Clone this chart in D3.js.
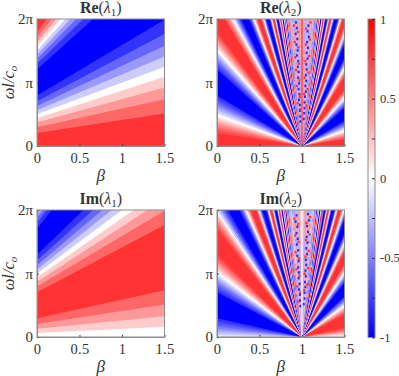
<!DOCTYPE html>
<html>
<head>
<meta charset="utf-8">
<script src="https://cdn.jsdelivr.net/npm/d3@7"></script>
<style>
  html, body { margin: 0; padding: 0; background: #fff; }
  svg { display: block; }
  text { font-family: "Liberation Serif", serif; fill: #333; }
  .domain { stroke: #8c8c8c; }
  .tick line { stroke: #333; }
</style>
</head>
<body>
<div id="chart"></div>
<script>
// Band edges. An edge is a ray through the fan's apex, named by
// where it lands on the beta = 0 side (omega in units of pi). The level is the colour
// value of the band above that edge.
const re1Edges = [0, .205, .295, .369, .436, .5, .564, .631, .705, .795, 1.205, 1.295, 1.369, 1.436, 1.5, 1.564, 1.631, 1.705, 1.795];
const re1Levels = [.8, .6, .4, .2, 0, -.2, -.4, -.6, -.8, -1, -.8, -.6, -.4, -.2, 0, .2, .4, .6, .8];

const im1Edges = [0, .064, .131, .205, .295, .705, .795, .869, .936, 1, 1.064, 1.131, 1.205, 1.295, 1.705, 1.795, 1.869, 1.936];
const im1Levels = [0, .2, .4, .6, .8, .6, .4, .2, 0, -.2, -.4, -.6, -.8, -1, -.8, -.6, -.4, -.2];

const re2Edges = [0, .205, .253, .295, .333, .369, .403, .436, .468, .5, .532, .564, .597, .631, .667, .705, .747, .795,
  1.205, 1.253, 1.295, 1.333, 1.369, 1.403, 1.436, 1.468, 1.5, 1.532, 1.564, 1.597, 1.631, 1.667, 1.705, 1.747, 1.795,
  2.205, 2.295, 2.369, 2.436, 2.5, 2.564, 2.631, 2.705, 2.795, 3.205, 3.295, 3.369, 3.436, 3.5, 3.564, 3.631, 3.705, 3.795,
  4.205, 4.369, 4.5, 4.631, 4.795, 5.205, 5.369, 5.5, 5.631, 5.795,
  6.205, 6.369, 6.5, 6.631, 6.795, 7.205, 7.369, 7.5, 7.631, 7.795,
  8.3, 8.7, 9.3, 9.7, 10.3, 10.7, 11.3, 11.7, 12.3, 12.7, 13.3, 13.7, 14.3, 14.7, 15.3, 15.7,
  16.4, 18, 21, 25, 30, 38, 50, 70, 110];
const re2Levels = [.8, .7, .6, .5, .4, .3, .2, .1, 0, -.1, -.2, -.3, -.4, -.5, -.6, -.7, -.8, -1,
  -.8, -.7, -.6, -.5, -.4, -.3, -.2, -.1, 0, .1, .2, .3, .4, .5, .6, .7, .8,
  .6, .4, .2, 0, -.2, -.4, -.6, -.8, -1, -.8, -.6, -.4, -.2, 0, .2, .4, .6, .8,
  .4, 0, -.4, -.8, -1, -.8, -.4, 0, .4, .8,
  .4, 0, -.4, -.8, -1, -.8, -.4, 0, .4, .8,
  0, -1, 0, .8, 0, -1, 0, .8, 0, -.8, 0, .7, 0, -.5, 0, .5,
  -.3, .3, -.35, .3, -.3, .35, -.35, .3, .4];

const im2LeftEdges = [0, .032, .064, .097, .131, .167, .205, .247, .295, .705, .753, .795, .833, .869, .903, .936, .968,
  1, 1.032, 1.064, 1.097, 1.131, 1.167, 1.205, 1.247, 1.295, 1.705, 1.753, 1.795, 1.833, 1.869, 1.903, 1.936, 1.968,
  2, 2.064, 2.131, 2.205, 2.295, 2.705, 2.795, 2.869, 2.936, 3, 3.064, 3.131, 3.205, 3.295, 3.705, 3.795, 3.869, 3.936,
  4, 4.131, 4.295, 4.705, 4.869, 5, 5.131, 5.295, 5.705, 5.869,
  6, 6.131, 6.295, 6.705, 6.869, 7, 7.131, 7.295, 7.705, 7.869,
  8.2, 8.8, 9.2, 9.8, 10.2, 10.8, 11.2, 11.8, 12.2, 12.8, 13.2, 13.8, 14.2, 14.8, 15.2, 15.8,
  16.4, 18, 21, 25, 30, 38, 50, 70, 110];
const im2LeftLevels = [-.1, -.2, -.3, -.4, -.5, -.6, -.7, -.8, -1, -.8, -.7, -.6, -.5, -.4, -.3, -.2, -.1,
  0, .1, .2, .3, .4, .5, .6, .7, .8, .7, .6, .5, .4, .3, .2, .1, 0,
  -.2, -.4, -.6, -.8, -1, -.8, -.6, -.4, -.2, 0, .2, .4, .6, .8, .6, .4, .2, 0,
  -.4, -.8, -1, -.8, -.4, 0, .4, .8, .4, 0,
  -.4, -.8, -1, -.8, -.4, 0, .4, .8, .4, 0,
  -1, 0, .8, 0, -1, 0, .8, 0, -.8, 0, .7, 0, -.5, 0, .5, 0,
  -.3, .3, -.35, .3, -.3, .35, -.35, .3, .1];

const im2RightEdges = [0, .032, .064, .097, .131, .167, .205, .247, .295, .705, .753, .795, .833, .869, .903, .936, .968,
  1, 1.032, 1.064, 1.097, 1.131, 1.167, 1.205, 1.247, 1.295, 1.705, 1.753, 1.795, 1.833, 1.869, 1.903, 1.936, 1.968,
  2, 2.064, 2.131, 2.205, 2.295, 2.705, 2.795, 2.869, 2.936, 3, 3.064, 3.131, 3.205, 3.295, 3.705, 3.795, 3.869, 3.936,
  4, 4.131, 4.295, 4.705, 4.869, 5, 5.131, 5.295, 5.705, 5.869,
  6, 6.131, 6.295, 6.705, 6.869, 7, 7.131, 7.295, 7.705, 7.869,
  8.2, 8.8, 9.2, 9.8, 10.2, 10.8, 11.2, 11.8, 12.2, 12.8, 13.2, 13.8, 14.2, 14.8, 15.2, 15.8,
  16.4, 18, 21, 25, 30, 38, 50, 70, 110];
const im2RightLevels = [0, .1, .2, .3, .4, .5, .6, .7, .8, .7, .6, .5, .4, .3, .2, .1, 0,
  -.1, -.2, -.3, -.4, -.5, -.6, -.7, -.8, -1, -.8, -.7, -.6, -.5, -.4, -.3, -.2, -.1,
  0, .2, .4, .6, .8, .6, .4, .2, 0, -.2, -.4, -.6, -.8, -1, -.8, -.6, -.4, -.2,
  0, .4, .8, .4, 0, -.4, -.8, -1, -.8, -.4,
  0, .4, .8, .4, 0, -.4, -.8, -1, -.8, -.4,
  .8, 0, -1, 0, .8, 0, -1, 0, .7, 0, -.8, 0, .5, 0, -.5, 0,
  .3, -.3, .35, -.3, .3, -.35, .35, -.3, .1];

// Speckles in the aliased middle of the lambda_2 panels: [beta, omega / pi]
const re2BlueDots = [[.93,1.95],[.94,1.86],[.925,1.77],[.945,1.69],[.935,1.6],[.95,1.51],[.94,1.43],[.955,1.34],[.95,1.25],[.96,1.17],[.955,1.08],[.965,.99],[.96,.9],[.97,.82],[.965,.73],[.975,.65],[.975,.56],[.98,.47],[.98,.39],
  [1.075,1.9],[1.065,1.81],[1.08,1.72],[1.06,1.64],[1.07,1.55],[1.055,1.47],[1.065,1.38],[1.05,1.29],[1.055,1.21],[1.045,1.12],[1.05,1.03],[1.04,.95],[1.045,.86],[1.035,.78],[1.03,.69],[1.03,.6],[1.025,.52],[1.02,.43]];
const re2RedDots = [[.905,1.9],[.95,1.8],[.915,1.64],[.955,1.56],[.92,1.4],[.965,1.3],[.93,1.2],[.97,1.04],[.94,.95],[.975,.78],[.95,.68],[.98,.58],
  [1.1,1.95],[1.05,1.85],[1.095,1.68],[1.045,1.6],[1.085,1.42],[1.04,1.34],[1.075,1.16],[1.03,1.08],[1.065,.9],[1.025,.82],[1.05,.64]];
const im2BlueDots = [[.935,1.92],[.925,1.82],[.945,1.74],[.935,1.64],[.95,1.55],[.94,1.46],[.955,1.37],[.945,1.28],[.96,1.2],[.955,1.1],[.965,1.02],[.96,.93],[.97,.84],[.965,.75],[.975,.67],[.975,.58],[.98,.49],
  [1.07,1.94],[1.08,1.84],[1.06,1.75],[1.07,1.66],[1.055,1.58],[1.065,1.49],[1.05,1.4],[1.06,1.31],[1.045,1.22],[1.05,1.14],[1.04,1.05],[1.045,.96],[1.035,.87],[1.04,.79],[1.03,.7],[1.03,.61],[1.02,.52]];
const im2RedDots = [[.91,1.87],[.955,1.78],[.92,1.6],[.96,1.5],[.925,1.34],[.965,1.24],[.935,1.07],[.97,.97],[.945,.8],[.98,.7],[.96,.56],
  [1.095,1.89],[1.05,1.8],[1.09,1.62],[1.045,1.53],[1.08,1.36],[1.04,1.27],[1.07,1.09],[1.03,1],[1.06,.83],[1.025,.74]];
const paleBlueDots = [[.895,1.97],[.915,1.84],[.9,1.7],[.93,1.52],[.91,1.46],[.935,1.3],[.92,1.14],[.945,1.02],[.93,.88],[.955,.76],[.945,.62],
  [1.12,1.84],[1.095,1.76],[1.115,1.58],[1.09,1.5],[1.1,1.3],[1.08,1.24],[1.085,1.02],[1.065,1],[1.07,.76],[1.05,.72]];
const palePinkDots = [[.88,1.78],[.91,1.73],[.89,1.56],[.925,1.46],[.905,1.26],[.94,1.14],[.915,1],[.95,.86],[.935,.7],
  [1.11,1.75],[1.09,1.92],[1.125,1.66],[1.095,1.36],[1.105,1.12],[1.075,1.3],[1.08,.92],[1.055,.94],[1.06,.66]];

const xTicks = [0, .5, 1, 1.5];
const xTickLabels = ["0", "0.5", "1", "1.5"];
const yTicks = [0, 1, 2];
const yTickLabels = ["0", "π", "2π"];
const barTicks = [-1, -.75, -.5, -.25, 0, .25, .5, .75, 1];
const barLabels = ["-1", "", "-0.5", "", "0", "", "0.5", "", "1"];

const svg = d3.select("#chart").append("svg").attr("width", 399).attr("height", 376);
const color = d3.scaleLinear().domain([-1, 0, 1]).range(["#0000ff", "#ffffff", "#ff0000"]);

const panelW = 127.5, panelH = 127;
const x = d3.scaleLinear().domain([0, 1.5]).range([0, panelW]);
const y = d3.scaleLinear().domain([0, 2]).range([panelH, 0]);

// Stacks the bands over one another so the antialiased edges leave no seams
function drawFan(g, edges, levels, betaRange, ray) {
    const area = d3.area()
                   .x(d => x(d))
                   .y1(y(2));
    g.selectAll(null)
     .data(edges)
     .join("path")
     .attr("d", (u) => area.y0(b => y(ray(u, b)))(betaRange))
     .attr("fill", (u, i) => color(levels[i]));
}

function drawDots(g, dots, fill) {
    g.selectAll(null)
     .data(dots)
     .join("rect")
     .attr("x", d => x(d[0]) - 1)
     .attr("y", d => y(d[1]) - 1)
     .attr("width", 2)
     .attr("height", 2.5)
     .attr("fill", fill);
}

function drawPanel(p) {
    const g = svg.append("g").attr("transform", `translate(${p.left}, ${p.top})`);

    g.append("clipPath").attr("id", p.id)
     .append("rect").attr("width", panelW).attr("height", panelH);

    const image = g.append("g").attr("clip-path", `url(#${p.id})`);

    if (p.kind === 1) {
        drawFan(image, p.edges, p.levels, [0, 1.5], (u, b) => u * (1 + b));
    } else {
        drawFan(image, p.edges, p.levels, [0, 1], (u, b) => u * (1 - b));
        drawFan(image, p.rightEdges, p.rightLevels, [1, 1.5], (u, b) => u * (b - 1));
        drawDots(image, paleBlueDots, "#a3a3ff");
        drawDots(image, palePinkDots, "#ffa3a3");
        drawDots(image, p.redDots, "#ff3333");
        drawDots(image, p.blueDots, "#2a2aff");
        image.append("line")
             .attr("x1", x(1)).attr("x2", x(1))
             .attr("y1", y(0)).attr("y2", y(2))
             .attr("stroke", p.middle)
             .attr("stroke-width", 1.2);
    }

    // Axes, with the box closed off in grey
    const bottom = g.append("g")
                    .attr("transform", `translate(0, ${panelH})`)
                    .call(d3.axisBottom(x).tickValues(xTicks).tickSizeInner(-2).tickSizeOuter(0)
                            .tickFormat((d, i) => xTickLabels[i]));
    const left = g.append("g")
                  .call(d3.axisLeft(y).tickValues(yTicks).tickSizeInner(-2).tickSizeOuter(0)
                          .tickFormat((d, i) => yTickLabels[i]));
    bottom.selectAll("text").attr("y", 7).attr("font-size", 14.5).style("letter-spacing", "0.3px");
    left.selectAll("text").attr("x", -4).attr("font-size", 15);
    g.selectAll("text").style("font-family", "Liberation Serif").attr("fill", "#333");

    g.append("rect")
     .attr("width", panelW).attr("height", panelH)
     .attr("fill", "none").attr("stroke", "#8c8c8c");

    // Title
    const title = g.append("text")
                   .attr("x", panelW / 2).attr("y", -6)
                   .attr("text-anchor", "middle").attr("font-size", 16);
    title.append("tspan").attr("font-weight", "bold").text(p.part);
    title.append("tspan").text("(");
    title.append("tspan").attr("font-style", "italic").text("λ");
    title.append("tspan").attr("font-size", 11).attr("dy", 3).text(p.index);
    title.append("tspan").attr("dy", -3).text(")");

    g.append("text")
     .attr("x", panelW / 2).attr("y", panelH + 35)
     .attr("text-anchor", "middle").attr("font-size", 17).attr("font-style", "italic")
     .text("β");

    if (p.yLabel) {
        const label = g.append("text")
                       .attr("transform", `translate(-23, ${panelH / 2}) rotate(-90)`)
                       .attr("text-anchor", "middle").attr("font-size", 16.5).attr("font-style", "italic");
        label.append("tspan").text("ωl/c");
        label.append("tspan").attr("font-size", 11).attr("dy", 3).text("o");
    }
}

drawPanel({ id: "p1", left: 37, top: 19, kind: 1, part: "Re", index: "1", yLabel: true,
            edges: re1Edges, levels: re1Levels });
drawPanel({ id: "p2", left: 217, top: 19, kind: 2, part: "Re", index: "2", yLabel: false,
            edges: re2Edges, levels: re2Levels, rightEdges: re2Edges, rightLevels: re2Levels,
            blueDots: re2BlueDots, redDots: re2RedDots, middle: "#ff3333" });
drawPanel({ id: "p3", left: 37, top: 210, kind: 1, part: "Im", index: "1", yLabel: true,
            edges: im1Edges, levels: im1Levels });
drawPanel({ id: "p4", left: 217, top: 210, kind: 2, part: "Im", index: "2", yLabel: false,
            edges: im2LeftEdges, levels: im2LeftLevels, rightEdges: im2RightEdges, rightLevels: im2RightLevels,
            blueDots: im2BlueDots, redDots: im2RedDots, middle: "#efe8f4" });

// Colorbar
const barY = d3.scaleLinear().domain([-1, 1]).range([337.5, 19]);
const bar = svg.append("g").attr("transform", "translate(368, 0)");
const barWidth = 7;

const defs = svg.append("defs");
const gradient = defs.append("linearGradient")
                     .attr("id", "barFill")
                     .attr("x1", 0).attr("x2", 0).attr("y1", 1).attr("y2", 0);
gradient.selectAll("stop")
        .data(color.domain())
        .join("stop")
        .attr("offset", d => (d + 1) / 2)
        .attr("stop-color", d => color(d));

bar.append("rect")
   .attr("y", barY(1)).attr("width", barWidth).attr("height", barY(-1) - barY(1))
   .attr("fill", "url(#barFill)")
   .attr("stroke", "#8c8c8c");

const barAxis = bar.append("g")
                   .attr("transform", `translate(${barWidth}, 0)`)
                   .call(d3.axisRight(barY).tickValues(barTicks).tickSizeInner(-3).tickSizeOuter(0)
                           .tickFormat((d, i) => barLabels[i]));
barAxis.select(".domain").remove();
barAxis.selectAll("text").attr("x", 5).attr("font-size", 12.5)
       .style("font-family", "Liberation Serif").attr("fill", "#333");
</script>
</body>
</html>
